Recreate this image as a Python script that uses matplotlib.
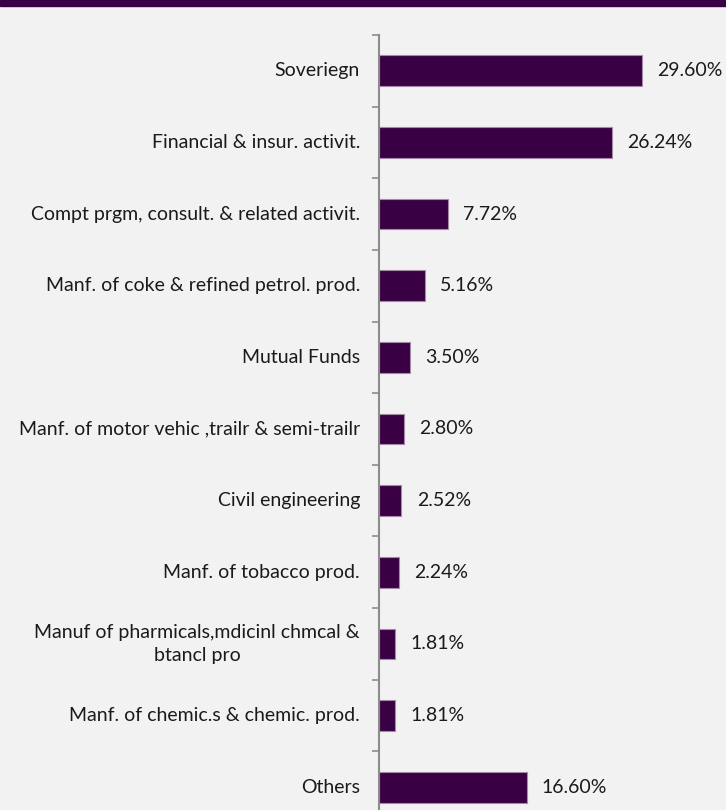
import numpy as np
import matplotlib.pyplot as plt
import matplotlib.transforms as mtransforms
from matplotlib.patches import Rectangle

# Sector exposure data
sectors = ['Soveriegn', 'Financial & insur. activit.',
           'Compt prgm, consult. & related activit.',
           'Manf. of coke & refined petrol. prod.', 'Mutual Funds',
           'Manf. of motor vehic ,trailr & semi-trailr', 'Civil engineering',
           'Manf. of tobacco prod.',
           'Manuf of pharmicals,mdicinl chmcal &\nbtancl pro',
           'Manf. of chemic.s & chemic. prod.', 'Others']
shares = [29.60, 26.24, 7.72, 5.16, 3.50, 2.80, 2.52, 2.24, 1.81, 1.81, 16.60]

bg = '#f2f2f2'
purple = '#3a0044'
plt.rcParams['font.family'] = ['Lato', 'DejaVu Sans']

fig = plt.figure(figsize=(7.26, 8.10), dpi=100, facecolor=bg)
fig.patches.append(Rectangle((0, 1 - 6/810), 1, 6/810, transform=fig.transFigure,
                             color=purple, zorder=0))

ax = fig.add_axes([379/726, 1 - 823/810, 0.46, 788/810])
ax.set_facecolor(bg)

y = np.arange(len(sectors))
bars = ax.barh(y, shares, height=0.43, color=purple, edgecolor='#a58aa8', linewidth=0.8)
ax.set_ylim(len(sectors) - 0.5, -0.5)
ax.set_xlim(0, 335 / 8.92)

for yi, v in zip(y, shares):
    ax.annotate(f'{v:.2f}%', (v, yi), xytext=(11, 0), textcoords='offset points',
                va='center', ha='left', fontsize=14, color='#1a1a1a')

# category labels drawn by hand so the wrapped one is centred
trans = mtransforms.blended_transform_factory(ax.transAxes, ax.transData)
trans = trans + mtransforms.ScaledTranslation(-19/100, 0, fig.dpi_scale_trans)
for yi, name in zip(y, sectors):
    ax.text(0, yi, name, transform=trans, ha='right', va='center',
            multialignment='center', linespacing=1.4, fontsize=14, color='#1a1a1a')

ax.set_yticks([])
ax.set_yticks(np.arange(len(sectors) + 1) - 0.5, minor=True)
ax.tick_params(axis='y', which='minor', length=5, width=1.2, color='#8c8c8c')
ax.set_xticks([])

for s in ['top', 'right', 'bottom']:
    ax.spines[s].set_visible(False)
ax.spines['left'].set_color('#8c8c8c')
ax.spines['left'].set_linewidth(1.5)

fig.savefig('out.png', dpi=100, facecolor=bg)
